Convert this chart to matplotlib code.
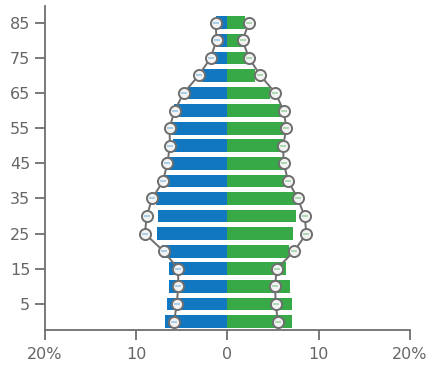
import matplotlib.pyplot as plt

ages = [0, 5, 10, 15, 20, 25, 30, 35, 40, 45, 50, 55, 60, 65, 70, 75, 80, 85]

# bars: share of population (%) by age group
male = [6.8, 6.65, 6.4, 6.4, 7.2, 7.75, 7.6, 7.8, 6.85, 6.85, 6.0, 6.1, 5.85, 4.35, 2.8, 1.8, 1.15, 1.3]
female = [7.1, 7.05, 6.85, 6.4, 6.7, 7.15, 7.5, 7.75, 6.9, 6.55, 6.05, 6.15, 5.85, 4.65, 3.0, 2.1, 1.6, 1.95]

# circles: comparison population (%)
male_ref = [5.85, 5.55, 5.4, 5.4, 7.0, 9.05, 8.85, 8.25, 7.05, 6.6, 6.3, 6.35, 5.8, 4.8, 3.15, 1.85, 1.2, 1.3]
female_ref = [5.5, 5.3, 5.2, 5.4, 7.3, 8.65, 8.45, 7.7, 6.65, 6.15, 6.1, 6.45, 6.15, 5.25, 3.6, 2.35, 1.65, 2.35]

xticks = [-20, -10, 0, 10, 20]
xlabels = ['20%', '10', '0', '10', '20%']
yticks = [5, 15, 25, 35, 45, 55, 65, 75, 85]

blue = '#1177c0'
green = '#37aa47'
grey = '#6e6e6e'

fig = plt.figure(figsize=(4.28, 3.65), dpi=100)
ax = fig.add_axes([0.105, 0.096, 0.853, 0.888])

ax.barh(ages, [-v for v in male], height=3.6, color=blue, zorder=2)
ax.barh(ages, female, height=3.6, color=green, zorder=2)

for vals, col in [([-v for v in male_ref], '#9cc6e6'), (female_ref, '#9fd6a6')]:
    ax.plot(vals, ages, color=grey, lw=1.4, marker='o', ms=8,
            mfc='#f3f3f3', mec=grey, mew=1.4, zorder=3)
    ax.scatter(vals, ages, marker='_', s=18, color=col, lw=1.2, zorder=4)

ax.set_xlim(-20, 20)
ax.set_ylim(-2.4, 89.8)
ax.set_xticks(xticks)
ax.set_xticklabels(xlabels)
ax.set_yticks(yticks)

for side in ['top', 'right']:
    ax.spines[side].set_visible(False)
for side in ['left', 'bottom']:
    ax.spines[side].set_color(grey)
    ax.spines[side].set_linewidth(1.3)

ax.tick_params(axis='both', colors=grey, labelcolor='#666666', labelsize=11.5,
               length=7, width=1.3)
ax.tick_params(axis='x', pad=5)

fig.savefig('out.png', dpi=100)
